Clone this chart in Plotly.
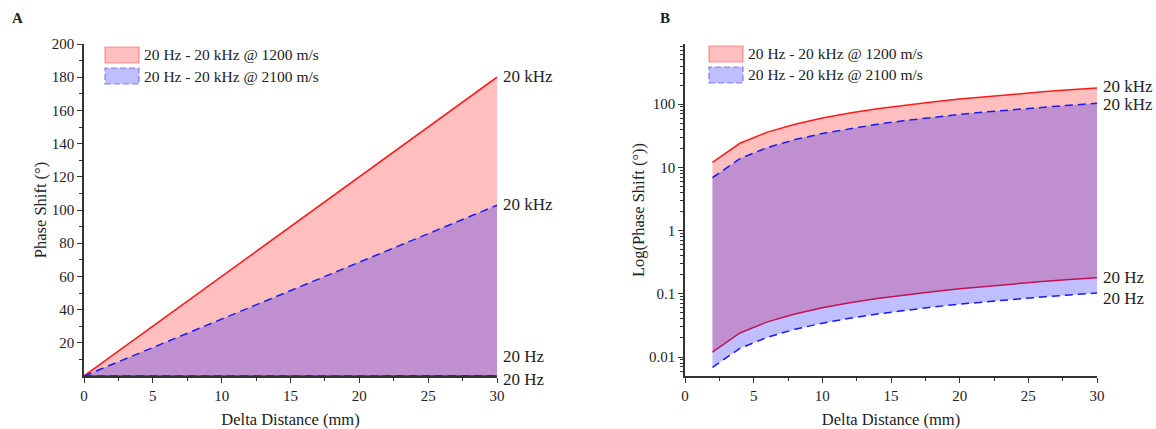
import math
import plotly.graph_objects as go

# ---- data ----
dist_a = [0, 2, 4, 6, 8, 10, 12, 14, 16, 18, 20, 22, 24, 26, 28, 30]
a_khz_1200 = [0, 12, 24, 36, 48, 60, 72, 84, 96, 108, 120, 132, 144, 156, 168, 180]
a_hz_1200 = [0, 0.012, 0.024, 0.036, 0.048, 0.06, 0.072, 0.084, 0.096, 0.108, 0.12, 0.132, 0.144, 0.156, 0.168, 0.18]
a_khz_2100 = [0, 6.86, 13.71, 20.57, 27.43, 34.29, 41.14, 48.0, 54.86, 61.71, 68.57, 75.43, 82.29, 89.14, 96.0, 102.86]
a_hz_2100 = [0, 0.00686, 0.01371, 0.02057, 0.02743, 0.03429, 0.04114, 0.048, 0.05486, 0.06171, 0.06857, 0.07543, 0.08229, 0.08914, 0.096, 0.10286]

dist_b = [2, 4, 6, 8, 10, 12, 14, 16, 18, 20, 22, 24, 26, 28, 30]
b_khz_1200 = [12, 24, 36, 48, 60, 72, 84, 96, 108, 120, 132, 144, 156, 168, 180]
b_hz_1200 = [0.012, 0.024, 0.036, 0.048, 0.06, 0.072, 0.084, 0.096, 0.108, 0.12, 0.132, 0.144, 0.156, 0.168, 0.18]
b_khz_2100 = [6.86, 13.71, 20.57, 27.43, 34.29, 41.14, 48.0, 54.86, 61.71, 68.57, 75.43, 82.29, 89.14, 96.0, 102.86]
b_hz_2100 = [0.00686, 0.01371, 0.02057, 0.02743, 0.03429, 0.04114, 0.048, 0.05486, 0.06171, 0.06857, 0.07543, 0.08229, 0.08914, 0.096, 0.10286]

legend_labels = ["20 Hz - 20 kHz @ 1200 m/s", "20 Hz - 20 kHz @ 2100 m/s"]
end_labels = ["20 kHz", "20 Hz"]
x_ticks = [0, 5, 10, 15, 20, 25, 30]
a_yticks = [20, 40, 60, 80, 100, 120, 140, 160, 180, 200]
b_yticks = [0.01, 0.1, 1, 10, 100]
b_yticklabels = ["0.01", "0.1", "1", "10", "100"]

FONT = "Liberation Serif, Times New Roman, serif"
TXT = "#222222"
RED = "#ff1a1a"
BLUE = "#1a1aff"
RED_FILL = "rgba(255,0,0,0.25)"
BLUE_FILL = "rgba(0,0,255,0.25)"
DASH = "8px,5px"

fig = go.Figure()

def add_band(x, lo, hi, xa, ya, color, fill, dash):
    fig.add_trace(go.Scatter(x=x, y=lo, mode="lines", line=dict(color=color, width=1.5, dash=dash),
                             xaxis=xa, yaxis=ya, showlegend=False, hoverinfo="skip"))
    fig.add_trace(go.Scatter(x=x, y=hi, mode="lines", line=dict(color=color, width=1.5, dash=dash),
                             fill="tonexty", fillcolor=fill,
                             xaxis=xa, yaxis=ya, showlegend=False, hoverinfo="skip"))

add_band(dist_a, a_hz_1200, a_khz_1200, "x", "y", RED, RED_FILL, "solid")
add_band(dist_a, a_hz_2100, a_khz_2100, "x", "y", BLUE, BLUE_FILL, DASH)
add_band(dist_b, b_hz_1200, b_khz_1200, "x2", "y2", RED, RED_FILL, "solid")
add_band(dist_b, b_hz_2100, b_khz_2100, "x2", "y2", BLUE, BLUE_FILL, DASH)

axis_common = dict(
    showline=True, linecolor="#333333", linewidth=1.5, mirror=False,
    ticks="outside", ticklen=5, tickwidth=1.2, tickcolor="#333333",
    showgrid=False, zeroline=False, automargin=False,
    tickfont=dict(family=FONT, size=15, color=TXT),
    title_font=dict(family=FONT, size=16.5, color=TXT),
)

xdomA = [84 / 1156, 497 / 1156]
xdomB = [685 / 1156, 1097 / 1156]
ydom = [1 - 376 / 429, 1 - 44 / 429]
minor_x = dict(ticks="outside", ticklen=3, tickcolor="#333333", tickvals=[2.5, 7.5, 12.5, 17.5, 22.5, 27.5])

fig.update_layout(
    width=1156, height=429,
    margin=dict(l=0, r=0, t=0, b=0),
    paper_bgcolor="white", plot_bgcolor="white",
    showlegend=False,
    font=dict(family=FONT, color=TXT),
    xaxis=dict(domain=xdomA, anchor="y", range=[0, 30], tickvals=x_ticks, minor=minor_x,
               title=dict(text="Delta Distance (mm)", standoff=12), **axis_common),
    yaxis=dict(domain=ydom, anchor="x", range=[0, 200], tickvals=a_yticks,
               minor=dict(ticks="outside", ticklen=3, tickcolor="#333333", tickvals=[10, 30, 50, 70, 90, 110, 130, 150, 170, 190]),
               title=dict(text="Phase Shift (°)", standoff=1), **axis_common),
    xaxis2=dict(domain=xdomB, anchor="y2", range=[0, 30], tickvals=x_ticks, minor=minor_x,
                title=dict(text="Delta Distance (mm)", standoff=12), **axis_common),
    yaxis2=dict(domain=ydom, anchor="x2", type="log", range=[-2.30, 2.95],
                tickvals=b_yticks, ticktext=b_yticklabels,
                minor=dict(ticks="outside", ticklen=3, tickcolor="#333333",
                           tickvals=[m * 10 ** e for e in range(-3, 3) for m in range(2, 10)]),
                title=dict(text="Log(Phase Shift (°))", standoff=0), **axis_common),
)

# panel letters
fig.add_annotation(text="<b>A</b>", xref="paper", yref="paper", x=10 / 1156, y=1 - 18 / 429,
                   showarrow=False, xanchor="left", yanchor="middle", font=dict(family=FONT, size=15, color=TXT))
fig.add_annotation(text="<b>B</b>", xref="paper", yref="paper", x=658 / 1156, y=1 - 18 / 429,
                   showarrow=False, xanchor="left", yanchor="middle", font=dict(family=FONT, size=15, color=TXT))

# custom legends (shapes + text)
def add_legend(x0px, ytop_px):
    for i, lab in enumerate(legend_labels):
        yt = ytop_px + i * 21
        fig.add_shape(type="rect", xref="paper", yref="paper",
                      x0=x0px / 1156, x1=(x0px + 34) / 1156,
                      y0=1 - (yt + 16) / 429, y1=1 - yt / 429,
                      fillcolor=RED_FILL if i == 0 else BLUE_FILL,
                      line=dict(color="rgba(255,60,60,0.5)" if i == 0 else "rgba(60,60,255,0.6)",
                                width=1.2, dash="solid" if i == 0 else "6px,3px"))
        fig.add_annotation(text=lab, xref="paper", yref="paper", x=(x0px + 37) / 1156, y=1 - (yt + 8) / 429,
                           showarrow=False, xanchor="left", yanchor="middle",
                           font=dict(family=FONT, size=15.5, color=TXT))

add_legend(105, 47)
add_legend(709, 46)

# end labels
def end_label(text, xa, ya, y, yshift=0, log=False):
    fig.add_annotation(text=text, xref=xa, yref=ya, x=30, y=math.log10(y) if log else y,
                       xshift=4, yshift=yshift,
                       showarrow=False, xanchor="left", yanchor="middle",
                       font=dict(family=FONT, size=17, color=TXT))

end_label(end_labels[0], "x", "y", a_khz_1200[-1], yshift=1)
end_label(end_labels[0], "x", "y", a_khz_2100[-1], yshift=1)
end_label(end_labels[1], "x", "y", a_hz_1200[-1], yshift=19)
end_label(end_labels[1], "x", "y", a_hz_2100[-1], yshift=-4)
end_label(end_labels[0], "x2", "y2", b_khz_1200[-1], yshift=1, log=True)
end_label(end_labels[0], "x2", "y2", b_khz_2100[-1], yshift=-1, log=True)
end_label(end_labels[1], "x2", "y2", b_hz_1200[-1], yshift=0, log=True)
end_label(end_labels[1], "x2", "y2", b_hz_2100[-1], yshift=-5, log=True)

fig.write_html("out.html")
